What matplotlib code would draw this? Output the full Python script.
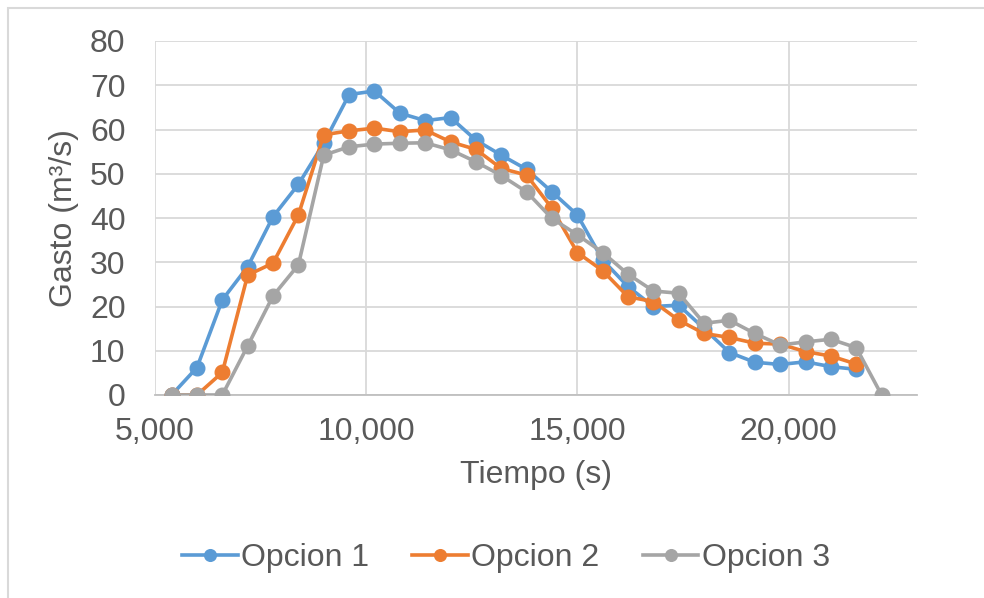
import matplotlib.pyplot as plt
from matplotlib.ticker import FuncFormatter, MultipleLocator
from matplotlib.patches import Rectangle

plt.rcParams['font.family'] = ['Liberation Sans', 'DejaVu Sans']

# tiempo (s), paso de 600 s
tiempo = [5400, 6000, 6600, 7200, 7800, 8400, 9000, 9600, 10200, 10800,
          11400, 12000, 12600, 13200, 13800, 14400, 15000, 15600, 16200, 16800,
          17400, 18000, 18600, 19200, 19800, 20400, 21000, 21600, 22200]

opcion1 = [0, 6.2, 21.5, 29.0, 40.3, 47.6, 56.9, 67.9, 68.7, 63.7,
           62.0, 62.7, 57.6, 54.2, 51.0, 45.9, 40.7, 30.5, 24.5, 20.0,
           20.3, 15.0, 9.6, 7.4, 6.9, 7.5, 6.4, 5.8]
opcion2 = [0, 0, 5.1, 27.1, 29.8, 40.7, 58.8, 59.7, 60.3, 59.5,
           59.9, 57.2, 55.5, 51.2, 49.7, 42.2, 32.2, 28.1, 22.2, 21.1,
           16.9, 13.9, 13.0, 11.7, 11.5, 9.8, 8.8, 7.0]
opcion3 = [0, 0, 0, 11.1, 22.4, 29.4, 54.2, 56.1, 56.7, 56.9,
           57.0, 55.4, 52.7, 49.6, 45.9, 39.9, 36.2, 32.2, 27.3, 23.5,
           23.0, 16.2, 16.9, 13.9, 11.3, 12.0, 12.6, 10.7, 0]

series = [("Opcion 1", opcion1, "#5B9BD5"),
          ("Opcion 2", opcion2, "#ED7D31"),
          ("Opcion 3", opcion3, "#A5A5A5")]

texto = "#595959"
rejilla = "#D9D9D9"

fig = plt.figure(figsize=(9.84, 5.98), dpi=100)
ax = fig.add_axes([154.7 / 984, 1 - 395 / 598, 762 / 984, 354 / 598])

# borde del area del grafico
fig.patches.append(Rectangle((8 / 984, -0.1), 1.2, 1 - 8 / 598 + 0.1,
                             transform=fig.transFigure, fill=False,
                             edgecolor=rejilla, linewidth=1.5))

for nombre, valores, color in series:
    ax.plot(tiempo[:len(valores)], valores, '-o', color=color, label=nombre,
            linewidth=2.6, markersize=10.5, zorder=3)

ax.set_xlim(5000, 23030)
ax.set_ylim(0, 80)
ax.xaxis.set_major_locator(MultipleLocator(5000))
ax.yaxis.set_major_locator(MultipleLocator(10))
ax.xaxis.set_major_formatter(FuncFormatter(lambda v, p: f"{v:,.0f}"))
ax.grid(True, color=rejilla, linewidth=1.3)
ax.set_axisbelow(True)
for lado in ['top', 'right', 'left']:
    ax.spines[lado].set_visible(False)
ax.spines['bottom'].set_color("#BFBFBF")
ax.spines['bottom'].set_linewidth(1.3)
ax.tick_params(axis='both', length=0, labelsize=23, labelcolor=texto)
ax.tick_params(axis='y', pad=21)
ax.tick_params(axis='x', pad=16)

ax.set_xlabel("Tiempo (s)", fontsize=23, color=texto, labelpad=9)
ax.set_ylabel("Gasto (m³/s)", fontsize=23, color=texto, labelpad=8)

fig.legend(loc='center', bbox_to_anchor=(0.514, 0.067), ncol=3, frameon=False,
           fontsize=23, labelcolor=texto, handlelength=1.75, handletextpad=0.1,
           columnspacing=1.35, markerscale=0.8)

fig.savefig("out.png", dpi=100)
